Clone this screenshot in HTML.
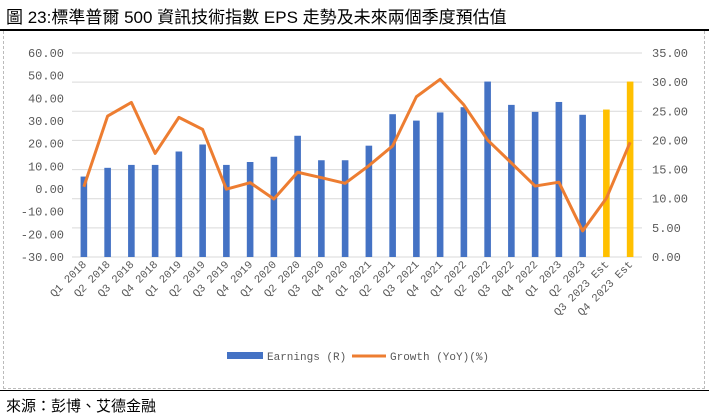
<!DOCTYPE html>
<html><head><meta charset="utf-8"><style>
body{margin:0;width:709px;height:420px;background:#fff;font-family:"Liberation Sans","Noto Sans CJK TC",sans-serif;overflow:hidden;position:relative}
#title{position:absolute;left:6px;top:3px;font-size:17px;color:#000;white-space:nowrap}
#tline{position:absolute;left:0;top:29px;width:709px;height:2px;background:#000}
#box{position:absolute;left:3px;top:31px;width:700px;height:357px;border:1px dashed #bbb;border-top:none}
#bline{position:absolute;left:0;top:390px;width:709px;height:1px;background:#000}
#src{position:absolute;left:6px;top:395px;font-size:15px;color:#000}
svg{position:absolute;left:0;top:0}
</style></head><body>
<div id="title">圖 23:標準普爾 500 資訊技術指數 EPS 走勢及未來兩個季度預估值</div>
<div id="tline"></div>
<div id="box"></div>
<svg id="chart" width="709" height="420"></svg>
<div id="bline"></div>
<div id="src">來源：彭博、艾德金融</div>
<script>
const categories=["Q1 2018","Q2 2018","Q3 2018","Q4 2018","Q1 2019","Q2 2019","Q3 2019","Q4 2019","Q1 2020","Q2 2020","Q3 2020","Q4 2020","Q1 2021","Q2 2021","Q3 2021","Q4 2021","Q1 2022","Q2 2022","Q3 2022","Q4 2022","Q1 2023","Q2 2023","Q3 2023 Est","Q4 2023 Est"];
const earnings=[13.8,15.3,15.8,15.8,18.1,19.3,15.8,16.3,17.2,20.8,16.6,16.6,19.1,24.5,23.4,24.8,25.7,30.1,26.1,24.9,26.6,24.4,25.3,30.1];
const growth=[1.0,32.2,38.2,15.7,31.6,26.3,-0.1,2.8,-4.4,7.4,5.0,2.5,10.3,19.0,40.7,48.4,37.1,21.6,11.5,1.3,3.0,-18.5,-4.1,20.6];
const estimate=[false,false,false,false,false,false,false,false,false,false,false,false,false,false,false,false,false,false,false,false,false,false,true,true];
const leftTicks=["60.00","50.00","40.00","30.00","20.00","10.00","0.00","-10.00","-20.00","-30.00"];
const rightTicks=["35.00","30.00","25.00","20.00","15.00","10.00","5.00","0.00"];
const NS="http://www.w3.org/2000/svg";
const svg=document.getElementById('chart');
const top_=53,bot=257,x0=72,x1=642;
const yR=v=>bot-(v/35)*(bot-top_);
const yL=v=>bot-((v+30)/90)*(bot-top_);
const step=(x1-x0)/categories.length;
const xC=i=>x0+step*(i+0.5);
function mk(t,a){const e=document.createElementNS(NS,t);for(const k in a)e.setAttribute(k,a[k]);svg.appendChild(e);return e;}
for(let i=0;i<rightTicks.length;i++){const v=35-i*5;const y=yR(v);
 const g=mk('line',{x1:x0,x2:x1,y1:y,y2:y,stroke:'#d9d9d9','stroke-width':1});
 
 
 const t=mk('text',{x:652,y:y+4,'font-size':12,fill:'#595959','font-family':'Liberation Mono,monospace'});t.textContent=rightTicks[i];
 
 }
for(let i=0;i<leftTicks.length;i++){const v=60-i*10;const y=yL(v);
 const t=mk('text',{x:64,y:y+4,'font-size':12,fill:'#595959','text-anchor':'end','font-family':'Liberation Mono,monospace'});t.textContent=leftTicks[i];
 
 }
categories.forEach((c,i)=>{const x=xC(i);const h=bot-yR(earnings[i]);
 const r=mk('rect',{x:x-3.3,y:yR(earnings[i]),width:6.6,height:h,fill:estimate[i]?'#ffc000':'#4472c4'});
 
 
 const t=mk('text',{x:x+3,y:265,'font-size':11,fill:'#595959','text-anchor':'end',transform:`rotate(-45 ${x+3} 265)`,'font-family':'Liberation Mono,monospace'});t.textContent=c;
 
 });
const pts=growth.map((g,i)=>xC(i)+','+yL(g)).join(' ');
const pl=mk('polyline',{points:pts,fill:'none',stroke:'#ed7d31','stroke-width':3,'stroke-linejoin':'round'});


const lr=mk('rect',{x:227,y:352,width:36,height:7,fill:'#4472c4'});


const lt=mk('text',{x:267,y:360,'font-size':11,fill:'#595959','font-family':'Liberation Mono,monospace'});lt.textContent='Earnings (R)';


const ll=mk('line',{x1:352,x2:386,y1:356,y2:356,stroke:'#ed7d31','stroke-width':3});


const lt2=mk('text',{x:390,y:360,'font-size':11,fill:'#595959','font-family':'Liberation Mono,"Noto Sans CJK TC",monospace'});lt2.textContent='Growth (YoY)(%)';


</script>
</body></html>
